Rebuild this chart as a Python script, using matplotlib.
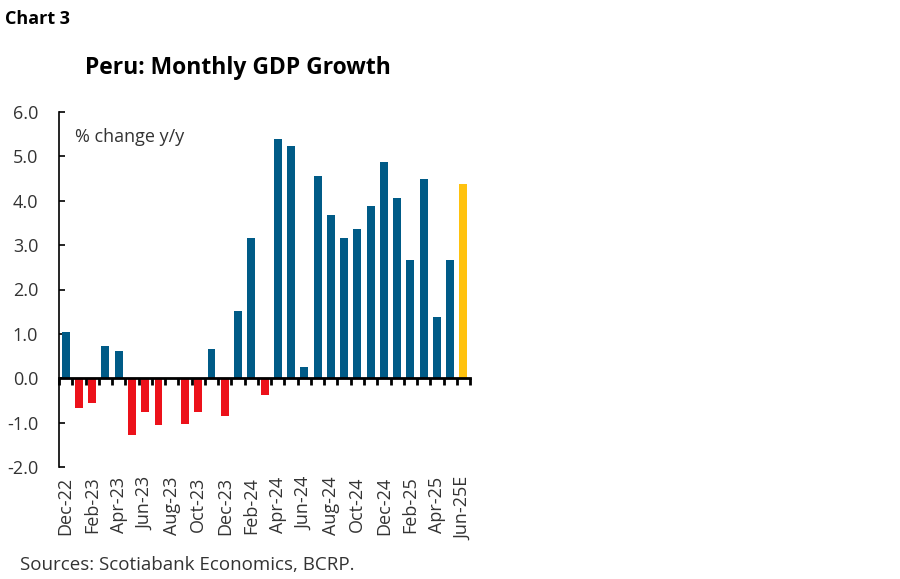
import matplotlib
matplotlib.use("Agg")
import matplotlib.pyplot as plt
import numpy as np

plt.rcParams['font.family'] = ['Open Sans', 'DejaVu Sans']

# monthly GDP growth, % y/y
months = ['Dec-22', 'Jan-23', 'Feb-23', 'Mar-23', 'Apr-23', 'May-23', 'Jun-23', 'Jul-23',
          'Aug-23', 'Sep-23', 'Oct-23', 'Nov-23', 'Dec-23', 'Jan-24', 'Feb-24', 'Mar-24',
          'Apr-24', 'May-24', 'Jun-24', 'Jul-24', 'Aug-24', 'Sep-24', 'Oct-24', 'Nov-24',
          'Dec-24', 'Jan-25', 'Feb-25', 'Mar-25', 'Apr-25', 'May-25', 'Jun-25E']
growth = [1.04, -0.68, -0.55, 0.73, 0.62, -1.27, -0.76, -1.06,
          0.0, -1.02, -0.77, 0.67, -0.86, 1.52, 3.15, -0.37,
          5.40, 5.23, 0.25, 4.55, 3.67, 3.15, 3.37, 3.89,
          4.88, 4.07, 2.67, 4.48, 1.38, 2.67, 4.38]
estimate = 'Jun-25E'
y_ticks = [-2.0, -1.0, 0.0, 1.0, 2.0, 3.0, 4.0, 5.0, 6.0]

BLUE = '#005b87'
RED = '#ec111a'
YELLOW = '#ffc20e'
TEXT = '#333333'

fig = plt.figure(figsize=(9, 5.79), dpi=100)
ax = fig.add_axes([0.0656, 0.1934, 0.4567, 0.6132])

x = np.arange(len(months))
colors = []
for m, v in zip(months, growth):
    if m == estimate:
        colors.append(YELLOW)
    elif v < 0:
        colors.append(RED)
    else:
        colors.append(BLUE)
ax.bar(x, growth, width=0.6, color=colors, zorder=2)

ax.set_xlim(-0.5, len(months) - 0.5)
ax.set_ylim(-2, 6)
ax.set_yticks(y_ticks)
ax.set_yticklabels([f'{t:.1f}' for t in y_ticks], fontsize=13, color=TEXT)
ax.tick_params(axis='y', direction='in', length=4, width=1.2, pad=15)

# x axis sits on zero, ticks between the bars
for s in ['top', 'right']:
    ax.spines[s].set_visible(False)
ax.spines['left'].set_linewidth(1.2)
ax.spines['bottom'].set_position(('data', 0))
ax.spines['bottom'].set_linewidth(2)
ax.spines['bottom'].set_zorder(3)
ax.set_xticks(np.arange(-0.5, len(months), 1.0))
ax.tick_params(axis='x', direction='out', length=5, width=2, labelbottom=False)

# month labels at the bottom of the plot
sec = ax.secondary_xaxis('bottom')
sec.spines['bottom'].set_visible(False)
sec.set_xticks(x[::2])
sec.set_xticklabels(months[::2], rotation=90, fontsize=13, color=TEXT)
sec.tick_params(axis='x', length=0, pad=7)

ax.text(0.04, 0.93, '% change y/y', transform=ax.transAxes, fontsize=13,
        color=TEXT, va='center', ha='left')

fig.text(0.006, 0.968, 'Chart 3', fontsize=13, fontweight='bold', va='center', ha='left')
fig.text(0.264, 0.882, 'Peru: Monthly GDP Growth', fontsize=16.5, fontweight='bold',
         va='center', ha='center')
fig.text(0.022, 0.024, 'Sources: Scotiabank Economics, BCRP.', fontsize=13.5,
         color=TEXT, va='center', ha='left')

fig.savefig('out.png', dpi=100)
